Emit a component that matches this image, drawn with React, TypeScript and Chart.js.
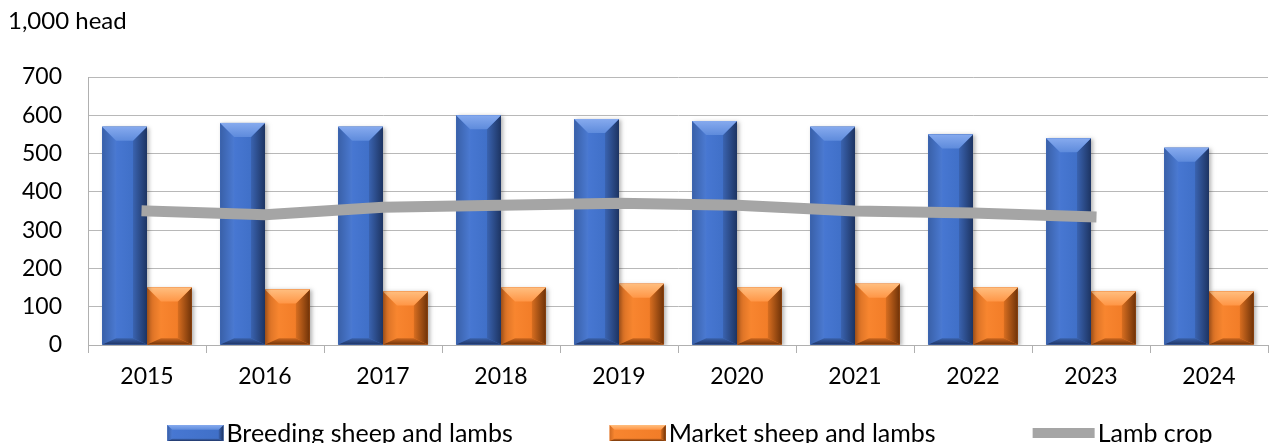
import React, { useEffect, useRef } from 'react';
import { Chart, registerables } from 'chart.js';

Chart.register(...registerables);

const years = ['2015', '2016', '2017', '2018', '2019', '2020', '2021', '2022', '2023', '2024'];
const breeding = [570, 580, 570, 600, 590, 585, 570, 550, 540, 515];
const market = [150, 145, 140, 150, 160, 150, 160, 150, 140, 140];
const lambCrop = [350, 340, 360, 365, 370, 365, 350, 345, 335, null];
const yMax = 700;
const yStep = 100;
const unitLabel = '1,000 head';
const seriesNames = ['Breeding sheep and lambs', 'Market sheep and lambs', 'Lamb crop'];

const FONT = 'Lato, "Open Sans", sans-serif';
const TICK_SIZE = 23;
const TITLE_SIZE = 24;
const LEGEND_SIZE = 25;

type Pal = {
  base: string; center1: string; center2: string;
  left0: string; left1: string; right0: string; right1: string;
  top0: string; top1: string; bot0: string; bot1: string;
};

const bluePal: Pal = {
  base: '#4472c4', center1: '#4777d2', center2: '#4070c8',
  left0: '#3960a8', left1: '#4b7ad2', right0: '#3a63b0', right1: '#1d3462',
  top0: '#86aaee', top1: '#5e8bdc', bot0: '#3a62ab', bot1: '#1f3566',
};
const orangePal: Pal = {
  base: '#ed7d31', center1: '#f8852f', center2: '#f27d28',
  left0: '#d06a22', left1: '#f8862f', right0: '#d86e20', right1: '#6e3208',
  top0: '#ffbe7f', top1: '#ff9646', bot0: '#cc671f', bot1: '#74360a',
};

function quad(ctx: CanvasRenderingContext2D, pts: number[][], fill: string | CanvasGradient) {
  ctx.fillStyle = fill;
  ctx.beginPath();
  ctx.moveTo(pts[0][0], pts[0][1]);
  for (let i = 1; i < pts.length; i++) ctx.lineTo(pts[i][0], pts[i][1]);
  ctx.closePath();
  ctx.fill();
}

function drawBevelBar(ctx: CanvasRenderingContext2D, L: number, T: number, R: number, B: number, pal: Pal, shadow = true, maxB = 14) {
  const w = R - L;
  const h = B - T;
  if (w <= 0 || h <= 0) return;
  const b = Math.min(maxB, w * 0.32, h * 0.3);
  const bb = Math.min(b * 0.45, h * 0.15);
  ctx.save();
  if (shadow) {
    ctx.shadowColor = 'rgba(0,0,0,0.3)';
    ctx.shadowBlur = 4;
    ctx.shadowOffsetX = 2;
    ctx.shadowOffsetY = 1;
  }
  ctx.fillStyle = pal.base;
  ctx.fillRect(L, T, w, h);
  ctx.restore();

  const gc = ctx.createLinearGradient(L + b, 0, R - b, 0);
  gc.addColorStop(0, pal.center1);
  gc.addColorStop(1, pal.center2);
  ctx.fillStyle = gc;
  ctx.fillRect(L, T, w, h);

  const gl = ctx.createLinearGradient(L, 0, L + b, 0);
  gl.addColorStop(0, pal.left0);
  gl.addColorStop(1, pal.left1);
  quad(ctx, [[L, T], [L + b, T + b], [L + b, B - bb], [L, B]], gl);

  const gr = ctx.createLinearGradient(R - b, 0, R, 0);
  gr.addColorStop(0, pal.right0);
  gr.addColorStop(1, pal.right1);
  quad(ctx, [[R, T], [R - b, T + b], [R - b, B - bb], [R, B]], gr);

  const gt = ctx.createLinearGradient(0, T, 0, T + b);
  gt.addColorStop(0, pal.top0);
  gt.addColorStop(1, pal.top1);
  quad(ctx, [[L, T], [R, T], [R - b, T + b], [L + b, T + b]], gt);

  const gb = ctx.createLinearGradient(0, B - bb, 0, B);
  gb.addColorStop(0, pal.bot0);
  gb.addColorStop(1, pal.bot1);
  quad(ctx, [[L, B], [R, B], [R - b, B - bb], [L + b, B - bb]], gb);
}

const bevelPlugin = {
  id: 'bevelBars',
  afterDatasetDraw(chart: any, args: any) {
    const ds = chart.data.datasets[args.index];
    if (!ds.palette) return;
    const ctx = chart.ctx as CanvasRenderingContext2D;
    const area = chart.chartArea;
    ctx.save();
    ctx.beginPath();
    ctx.rect(area.left, area.top - 2, area.right - area.left + 4, area.bottom - area.top + 2);
    ctx.clip();
    args.meta.data.forEach((el: any) => {
      const p = el.getProps(['x', 'y', 'base', 'width'], true);
      drawBevelBar(ctx, p.x - p.width / 2, p.y, p.x + p.width / 2, p.base, ds.palette);
    });
    ctx.restore();
  },
};

const textPlugin = {
  id: 'textAndLegend',
  afterDraw(chart: any) {
    const ctx = chart.ctx as CanvasRenderingContext2D;
    ctx.save();
    ctx.font = `${TITLE_SIZE}px ${FONT}`;
    ctx.fillStyle = '#000';
    ctx.textBaseline = 'alphabetic';
    ctx.textAlign = 'left';
    ctx.fillText(unitLabel, 8, 29);

    ctx.font = `${LEGEND_SIZE}px ${FONT}`;
    const datasets = chart.data.datasets;
    const boxW = 56;
    const gapT = 3;
    const gap = 97;
    const widths = datasets.map((d: any) => ctx.measureText(d.label).width);
    const total = widths.reduce((s: number, w: number) => s + boxW + gapT + w, 0) + gap * (datasets.length - 1) + 6;
    const area = chart.chartArea;
    let x = (area.left + area.right) / 2 + 12 - total / 2;
    const cy = chart.height - 10;
    datasets.forEach((d: any, i: number) => {
      let bw = boxW;
      if (d.palette) {
        drawBevelBar(ctx, x, cy - 8, x + boxW, cy + 8, d.palette, false, 5);
      } else {
        bw = boxW + 6;
        ctx.fillStyle = d.borderColor;
        ctx.fillRect(x, cy - 5, bw, 10);
      }
      ctx.fillStyle = '#000';
      ctx.textBaseline = 'middle';
      ctx.fillText(d.label, x + bw + gapT, cy + 1);
      x += bw + gapT + widths[i] + gap;
    });
    ctx.restore();
  },
};

export default function App() {
  const ref = useRef<HTMLCanvasElement | null>(null);
  useEffect(() => {
    if (!ref.current) return;
    const chart = new Chart(ref.current, {
      type: 'bar',
      data: {
        labels: years,
        datasets: [
          {
            type: 'bar',
            label: seriesNames[0],
            data: breeding,
            backgroundColor: bluePal.base,
            palette: bluePal,
            barPercentage: 1,
            categoryPercentage: 0.76,
            order: 1,
          } as any,
          {
            type: 'bar',
            label: seriesNames[1],
            data: market,
            backgroundColor: orangePal.base,
            palette: orangePal,
            barPercentage: 1,
            categoryPercentage: 0.76,
            order: 1,
          } as any,
          {
            type: 'line',
            label: seriesNames[2],
            data: lambCrop,
            borderColor: '#a5a5a5',
            backgroundColor: '#a5a5a5',
            borderWidth: 11,
            borderCapStyle: 'square',
            borderJoinStyle: 'round',
            pointRadius: 0,
            tension: 0,
            spanGaps: false,
            order: 0,
          } as any,
        ],
      },
      options: {
        responsive: false,
        animation: false,
        layout: { padding: { top: 77, right: 1, bottom: 0, left: 0 } },
        plugins: {
          legend: { display: false },
          tooltip: { enabled: false },
          title: { display: false },
        },
        scales: {
          x: {
            offset: true,
            grid: {
              offset: true,
              drawOnChartArea: false,
              drawTicks: true,
              tickLength: 8,
              color: '#b0b0b0',
            },
            border: { display: true, color: '#b0b0b0', width: 1 },
            ticks: {
              color: '#000',
              font: { family: FONT, size: TICK_SIZE },
              padding: 10,
              maxRotation: 0,
            },
            afterFit: (scale: any) => { scale.height = 98; },
          },
          y: {
            min: 0,
            max: yMax,
            ticks: {
              stepSize: yStep,
              color: '#000',
              font: { family: FONT, size: TICK_SIZE },
              padding: 26,
            },
            grid: { color: '#b8b8b8', drawTicks: false, lineWidth: 1 },
            border: { display: true, color: '#b0b0b0', width: 1 },
            afterFit: (scale: any) => { scale.width = 88; },
          },
        },
      },
      plugins: [bevelPlugin, textPlugin],
    });
    return () => chart.destroy();
  }, []);

  return (
    <div style={{ position: 'absolute', left: 0, top: 0, width: 1269, height: 443 }}>
      <canvas ref={ref} width={1269} height={443} />
    </div>
  );
}
